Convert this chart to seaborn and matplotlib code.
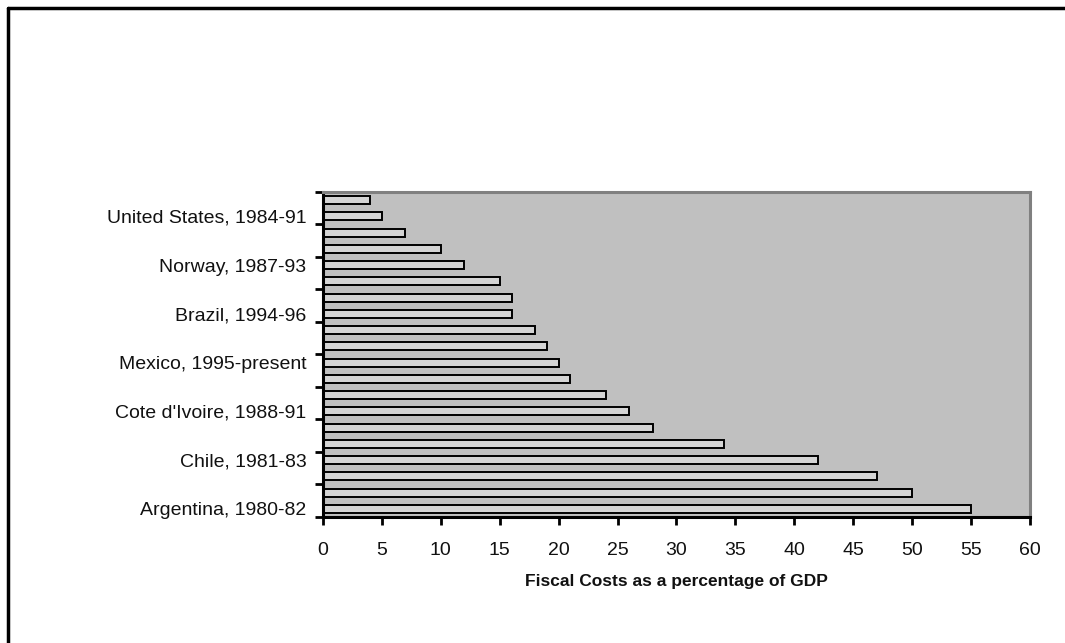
import matplotlib
matplotlib.use("Agg")
import matplotlib.pyplot as plt
from matplotlib.lines import Line2D
import seaborn as sns
import pandas as pd

# Banking crises, ordered top to bottom as drawn
crisis_labels = ["", "United States, 1984-91", "", "", "Norway, 1987-93", "", "",
                 "Brazil, 1994-96", "", "", "Mexico, 1995-present", "", "",
                 "Cote d'Ivoire, 1988-91", "", "", "Chile, 1981-83", "", "",
                 "Argentina, 1980-82"]
fiscal_cost = [4, 5, 7, 10, 12, 15, 16, 16, 18, 19, 20, 21, 24, 26, 28, 34, 42,
               47, 50, 55]
x_ticks = [0, 5, 10, 15, 20, 25, 30, 35, 40, 45, 50, 55, 60]

sns.set_theme(style="white")
plt.rcParams["font.family"] = ["Liberation Sans", "DejaVu Sans"]

df = pd.DataFrame({"slot": list(range(len(fiscal_cost))), "cost": fiscal_cost})

fig = plt.figure(figsize=(10.65, 6.43), dpi=100)
ax = fig.add_axes([0.3033, 0.196, 0.6638, 0.5054])
ax.set_facecolor("#c0c0c0")

sns.barplot(data=df, x="cost", y="slot", orient="h", color="#d4d4d4",
            edgecolor="black", linewidth=1.4, width=0.5, saturation=1,
            ax=ax)

ax.set_xlim(0, 60)
ax.set_ylim(len(fiscal_cost) - 0.5, -0.5)
ax.set_xticks(x_ticks)
ax.set_xticklabels([str(t) for t in x_ticks], fontsize=14, color="#111111")

# tick marks sit on every second category boundary; labels on every third bar
ax.set_yticks([i - 0.5 for i in range(0, len(fiscal_cost) + 1, 2)])
ax.set_yticklabels([])
label_pos = [i for i, s in enumerate(crisis_labels) if s]
ax.set_yticks(label_pos, minor=True)
ax.set_yticklabels([crisis_labels[i] for i in label_pos], minor=True,
                   fontsize=14, color="#111111")
ax.tick_params(axis="y", which="major", left=True, length=6, width=2,
               color="black", direction="out")
ax.tick_params(axis="y", which="minor", left=True, length=0, pad=12)
ax.tick_params(axis="x", bottom=True, length=6, width=2, color="black",
               direction="out", pad=12)

ax.set_ylabel("")
ax.set_xlabel("Fiscal Costs as a percentage of GDP", fontsize=12.5,
              fontweight="bold", labelpad=11, color="#111111")

for side in ["left", "bottom"]:
    ax.spines[side].set_color("black")
    ax.spines[side].set_linewidth(2.2)
for side in ["top", "right"]:
    ax.spines[side].set_visible(True)
    ax.spines[side].set_color("#808080")
    ax.spines[side].set_linewidth(2.2)

# frame around the chart area (top and left edges)
fig.add_artist(Line2D([0.0075, 0.0075], [0.0, 0.9875], color="black",
                      linewidth=2.5, transform=fig.transFigure))
fig.add_artist(Line2D([0.0075, 1.0], [0.9875, 0.9875], color="black",
                      linewidth=2.5, transform=fig.transFigure))

fig.savefig("out.png", dpi=100, facecolor="white")
